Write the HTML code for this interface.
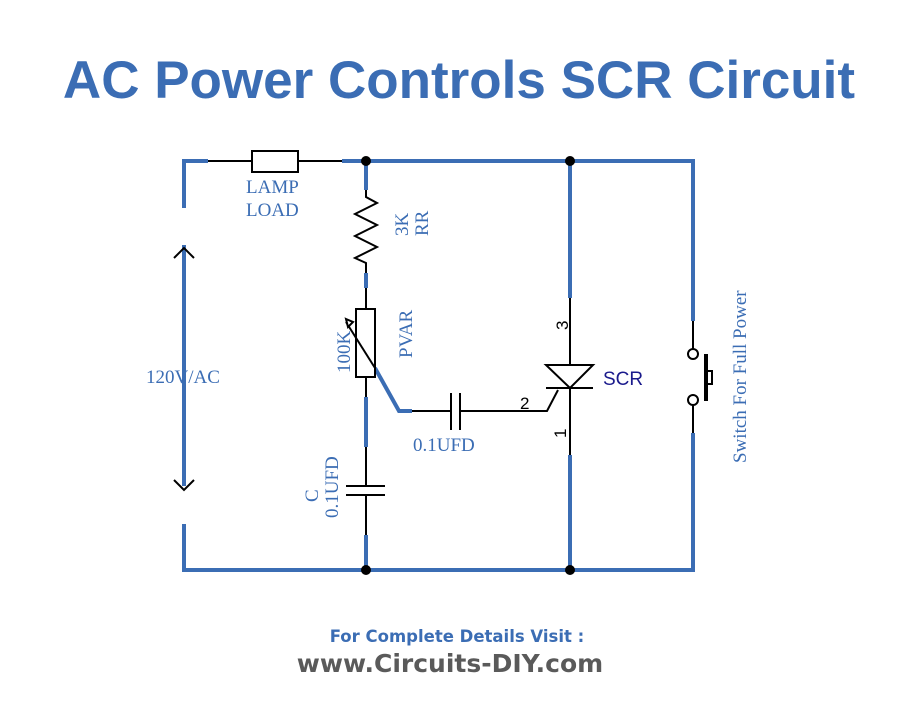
<!DOCTYPE html>
<html><head><meta charset="utf-8"><style>
html,body{margin:0;padding:0;background:#fff;width:921px;height:705px;overflow:hidden}
</style></head><body>
<svg width="921" height="705" xmlns="http://www.w3.org/2000/svg">
<text x="459" y="98" text-anchor="middle" font-family="Liberation Sans, sans-serif" font-weight="bold" font-size="53" fill="#3b6db4">AC Power Controls SCR Circuit</text>

<g stroke="#3b6db4" stroke-width="4" fill="none">
<polyline points="184,208 184,161 208,161"/>
<line x1="342" y1="161" x2="695" y2="161"/>
<line x1="693" y1="161" x2="693" y2="321"/>
<polyline points="693,433 693,570 182,570"/>
<line x1="184" y1="524" x2="184" y2="570"/>
<line x1="184" y1="245" x2="184" y2="486"/>
<line x1="366" y1="161" x2="366" y2="190"/>
<line x1="366" y1="273" x2="366" y2="288"/>
<line x1="366" y1="397" x2="366" y2="447"/>
<line x1="366" y1="535" x2="366" y2="570"/>
<polyline points="375,368 399,411 412,411"/>
<line x1="570" y1="161" x2="570" y2="298"/>
<line x1="570" y1="455" x2="570" y2="570"/>
</g>
<g stroke="#000" stroke-width="2" fill="none">
<line x1="208" y1="161" x2="252" y2="161"/>
<rect x="252" y="151" width="46" height="21" fill="#fff"/>
<line x1="298" y1="161" x2="342" y2="161"/>
<polyline points="366,190 366,197 377,203 355,214 377,225 355,236 377,247 355,258 366,263 366,273"/>
<line x1="366" y1="288" x2="366" y2="309"/>
<rect x="356" y="309" width="19" height="68" fill="#fff"/>
<line x1="366" y1="377" x2="366" y2="397"/>
<line x1="346" y1="322" x2="375" y2="368"/>
<polygon points="346,319 353,322 348,327" fill="#fff"/>
<line x1="366" y1="447" x2="366" y2="486"/>
<line x1="346" y1="486" x2="385" y2="486"/>
<line x1="346" y1="495" x2="385" y2="495"/>
<line x1="366" y1="495" x2="366" y2="535"/>
<line x1="412" y1="411" x2="451" y2="411"/>
<line x1="451" y1="393" x2="451" y2="430"/>
<line x1="460" y1="393" x2="460" y2="430"/>
<polyline points="460,411 547,411 558,390"/>
<line x1="570" y1="298" x2="570" y2="455"/>
<polygon points="546,365 593,365 570,388" fill="#fff"/>
<line x1="546" y1="388" x2="593" y2="388"/>
<polyline points="174,258 184,248 194,258"/>
<polyline points="174,480 184,490 194,480"/>
<line x1="693" y1="321" x2="693" y2="349"/>
<line x1="693" y1="405" x2="693" y2="433"/>
<circle cx="693" cy="354" r="5" fill="#fff"/>
<circle cx="693" cy="400" r="5" fill="#fff"/>
<rect x="706" y="371" width="6" height="13" fill="#fff"/>
</g>
<line x1="706" y1="354" x2="706" y2="401" stroke="#000" stroke-width="4"/>
<g fill="#000">
<circle cx="366" cy="161" r="5"/><circle cx="570" cy="161" r="5"/>
<circle cx="366" cy="570" r="5"/><circle cx="570" cy="570" r="5"/>
</g>

<g font-family="Liberation Serif, serif" font-size="19" fill="#3b6db4">
<text x="246" y="193">LAMP</text>
<text x="246" y="216">LOAD</text>
<text x="146" y="383">120V/AC</text>
<text x="413" y="451">0.1UFD</text>
<text transform="translate(408,236) rotate(-90)">3K</text>
<text transform="translate(428,236) rotate(-90)">RR</text>
<text transform="translate(412,358) rotate(-90)">PVAR</text>
<text transform="translate(350,373) rotate(-90)">100K</text>
<text transform="translate(318,502) rotate(-90)">C</text>
<text transform="translate(338,518) rotate(-90)">0.1UFD</text>
<text transform="translate(746,463) rotate(-90)">Switch For Full Power</text>
</g>
<text x="603" y="385" font-family="Liberation Sans, sans-serif" font-size="19" fill="#1a1a8c">SCR</text>
<g font-family="Liberation Sans, sans-serif" font-size="17" fill="#000">
<text x="520" y="409">2</text>
<text transform="translate(568,330) rotate(-90)">3</text>
<text transform="translate(566,438) rotate(-90)">1</text>
</g>

<text x="457" y="642" text-anchor="middle" font-family="DejaVu Sans, sans-serif" font-weight="bold" font-size="16.5" fill="#3b6db4">For Complete Details Visit :</text>
<text x="450" y="672" text-anchor="middle" font-family="DejaVu Sans, sans-serif" font-weight="bold" font-size="25" fill="#5a5a5a">www.Circuits-DIY.com</text>
</svg>
</body></html>
